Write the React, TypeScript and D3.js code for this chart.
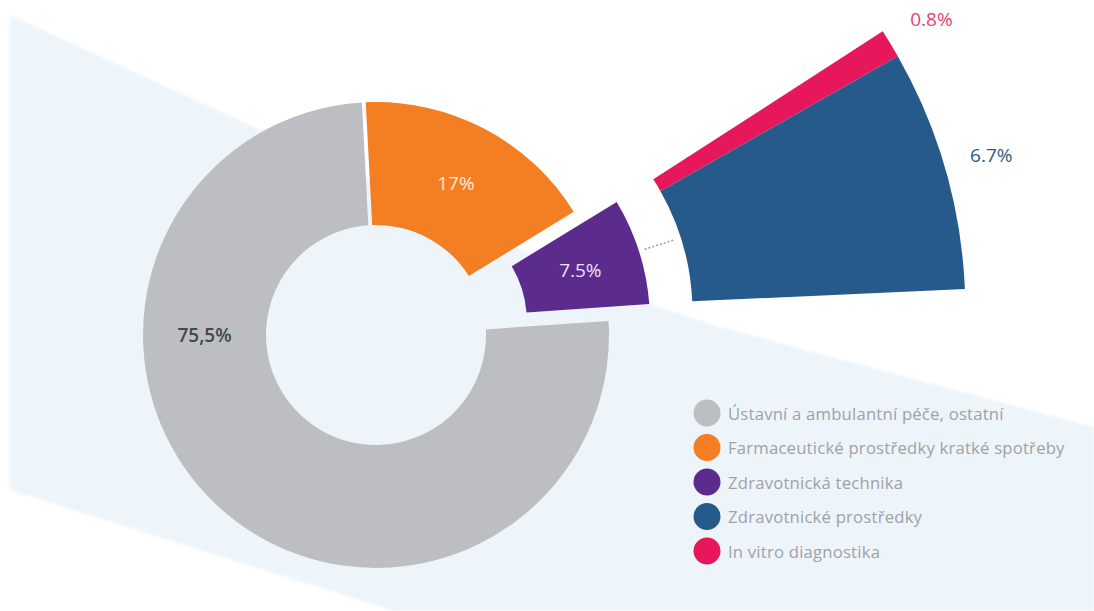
import React from "react";
import * as d3 from "d3";

// ---- data ----
const mainCategories = [
  "Farmaceutické prostředky kratké spotřeby",
  "Zdravotnická technika",
  "Ústavní a ambulantní péče, ostatní",
];
const mainValues = [17, 7.5, 75.5];
const mainLabels = ["17%", "7.5%", "75,5%"];

const breakoutCategories = ["In vitro diagnostika", "Zdravotnické prostředky"];
const breakoutValues = [0.8, 6.7];
const breakoutLabels = ["0.8%", "6.7%"];

const legendCategories = [
  "Ústavní a ambulantní péče, ostatní",
  "Farmaceutické prostředky kratké spotřeby",
  "Zdravotnická technika",
  "Zdravotnické prostředky",
  "In vitro diagnostika",
];

const colorOf: Record<string, string> = {
  "Ústavní a ambulantní péče, ostatní": "#bdbec1",
  "Farmaceutické prostředky kratké spotřeby": "#f47e22",
  "Zdravotnická technika": "#5b2b8d",
  "Zdravotnické prostředky": "#255a8a",
  "In vitro diagnostika": "#e6185b",
};
const mainLabelColors = ["#fdeadb", "#ece3f4", "#46474b"];
const mainLabelWeights = [500, 500, 600];
const breakoutLabelColors = ["#e5426c", "#2d5a86"];

const W = 1094;
const H = 611;
const CX = 376;
const CY = 335;
const R_IN = 110;
const R_OUT = 233;
const ROT = (-3 * Math.PI) / 180;
const PAD = 0.012;
const EXPLODE = 43;
const BREAK_OFFSET = 75;
const BREAK_SPREAD = 1.1;
const B_IN = 245;
const B_OUT = 518;
const FONT = "'Open Sans', 'Noto Sans', sans-serif";

export default function App() {
  const pie = d3
    .pie<number>()
    .sort(null)
    .startAngle(ROT)
    .endAngle(2 * Math.PI + ROT)
    .padAngle(PAD);
  const arcs = pie(mainValues);
  const arcGen = d3
    .arc<d3.PieArcDatum<number>>()
    .innerRadius(R_IN)
    .outerRadius(R_OUT)
    .padRadius(320);

  const explodedIdx = 1;
  const ex = arcs[explodedIdx];
  const exMid = (ex.startAngle + ex.endAngle) / 2;
  const exHalf = ((ex.endAngle - ex.startAngle) / 2) * BREAK_SPREAD;
  const exOff = d3.pointRadial(exMid, EXPLODE);

  const subPie = d3
    .pie<number>()
    .sort(null)
    .startAngle(exMid - exHalf)
    .endAngle(exMid + exHalf);
  const subArcs = subPie(breakoutValues);
  const subGen = d3
    .arc<d3.PieArcDatum<number>>()
    .innerRadius(B_IN)
    .outerRadius(B_OUT);
  const bOff = d3.pointRadial(exMid, BREAK_OFFSET);

  const dotA = d3.pointRadial(exMid, R_OUT + 6);
  const dotB = d3.pointRadial(exMid, B_IN - 7);

  const bandPath =
    "M10,15 L600,286 Q643,302 720,327 L1094,427 L1094,611 L394,611 L10,490 Z";

  return (
    <svg
      width={W}
      height={H}
      style={{ position: "absolute", left: 0, top: 0, background: "#ffffff" }}
      fontFamily={FONT}
    >
      <defs>
        <filter id="soft" x="-5%" y="-5%" width="110%" height="110%">
          <feGaussianBlur stdDeviation="1.5" />
        </filter>
      </defs>
      <rect width={W} height={H} fill="#ffffff" />
      <path d={bandPath} fill="#edf5fb" filter="url(#soft)" />

      <g transform={`translate(${CX},${CY})`}>
        {arcs.map((a, i) => {
          const off = i === explodedIdx ? exOff : [0, 0];
          return (
            <path
              key={i}
              d={arcGen(a) || ""}
              transform={`translate(${off[0]},${off[1]})`}
              fill={colorOf[mainCategories[i]]}
            />
          );
        })}

        <g transform={`translate(${bOff[0]},${bOff[1]})`}>
          {subArcs.map((a, i) => (
            <path key={i} d={subGen(a) || ""} fill={colorOf[breakoutCategories[i]]} />
          ))}
          {subArcs.map((a, i) => {
            const p = d3.pointRadial((a.startAngle + a.endAngle) / 2, 566);
            return (
              <text
                key={i}
                x={p[0]}
                y={p[1]}
                textAnchor="middle"
                dominantBaseline="central"
                fontSize={19}
                fontWeight={500}
                fill={breakoutLabelColors[i]}
              >
                {breakoutLabels[i]}
              </text>
            );
          })}
        </g>

        <line
          x1={dotA[0] + exOff[0]}
          y1={dotA[1] + exOff[1]}
          x2={dotB[0] + bOff[0]}
          y2={dotB[1] + bOff[1]}
          stroke="#9a9a9a"
          strokeWidth={1.5}
          strokeDasharray="2,2"
        />

        {arcs.map((a, i) => {
          let p: [number, number];
          if (i === 2) {
            p = d3.pointRadial((3 * Math.PI) / 2, (R_IN + R_OUT) / 2) as [number, number];
          } else {
            const c = arcGen.centroid(a);
            const off = i === explodedIdx ? exOff : [0, 0];
            p = [c[0] + off[0], c[1] + off[1]];
          }
          return (
            <text
              key={i}
              x={p[0]}
              y={p[1]}
              textAnchor="middle"
              dominantBaseline="central"
              fontSize={19}
              fontWeight={mainLabelWeights[i]}
              fill={mainLabelColors[i]}
            >
              {mainLabels[i]}
            </text>
          );
        })}
      </g>

      <g transform="translate(707,413)">
        {legendCategories.map((c, i) => (
          <g key={c} transform={`translate(0,${i * 34.5})`}>
            <circle r={13.5} fill={colorOf[c]} />
            <text
              x={21}
              y={0}
              dominantBaseline="central"
              fontSize={16.7}
              letterSpacing={0.2}
              fill="#9ea2a7"
            >
              {c}
            </text>
          </g>
        ))}
      </g>
    </svg>
  );
}
